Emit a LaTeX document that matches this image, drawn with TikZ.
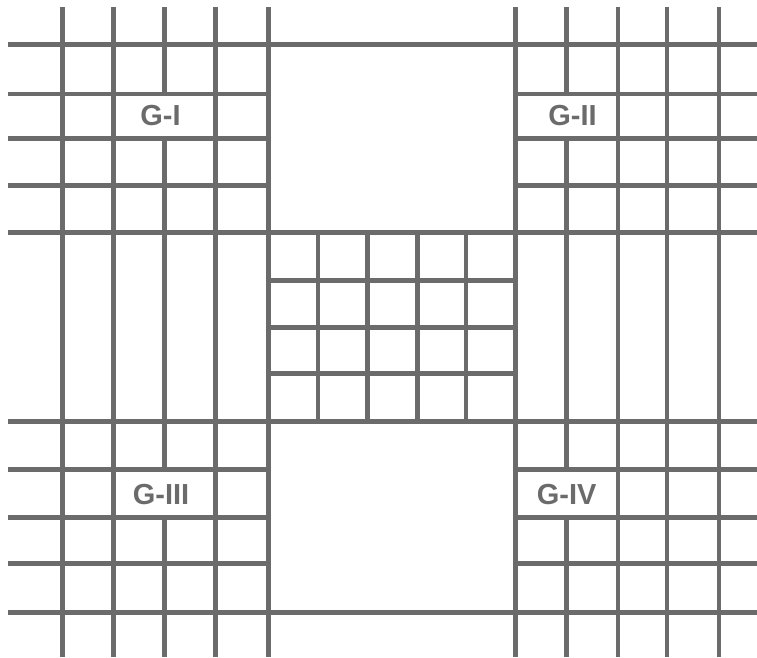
\documentclass[tikz,border=0pt]{standalone}
\usepackage{fontspec}
\setmainfont{Liberation Sans}
\definecolor{gridgray}{HTML}{6B6B6B}
\begin{document}
\begin{tikzpicture}[x=1pt,y=-1pt,
  gridline/.style={draw=gridgray,line width=4.6pt},
  glabel/.style={text=gridgray,font=\fontsize{29}{29}\selectfont\bfseries,inner sep=0pt}]
\useasboundingbox (0,0) rectangle (757,657);
% full verticals
\foreach \x in {62.7,113.7,215.5,268.5,515.7,618,667,719}
  \draw[gridline] (\x,7) -- (\x,657);
% broken verticals (label gaps)
\foreach \x in {164.7,566.5}{
  \draw[gridline] (\x,7) -- (\x,94);
  \draw[gridline] (\x,138.3) -- (\x,469.7);
  \draw[gridline] (\x,517.5) -- (\x,657);
}
% full horizontals
\foreach \y in {44.3,232.7,421.7,612.3}
  \draw[gridline] (8,\y) -- (757,\y);
% partial horizontals
\foreach \y in {94,138.3,185.5,469.7,517.5,563.2}{
  \draw[gridline] (8,\y) -- (268.5,\y);
  \draw[gridline] (515.7,\y) -- (757,\y);
}
% center grid
\foreach \y in {280.7,327.3,373.3}
  \draw[gridline] (268.5,\y) -- (515.7,\y);
\foreach \x in {318,367.3,417.7,466}
  \draw[gridline] (\x,232.7) -- (\x,421.7);
% labels
\node[glabel] (g1) at (160.5,116) {G-I};
\node[glabel] (g2) at (572.5,116) {G-II};
\node[glabel] (g3) at (161,494.5) {G-III};
\node[glabel] (g4) at (566.7,494.5) {G-IV};
\end{tikzpicture}
\end{document}
